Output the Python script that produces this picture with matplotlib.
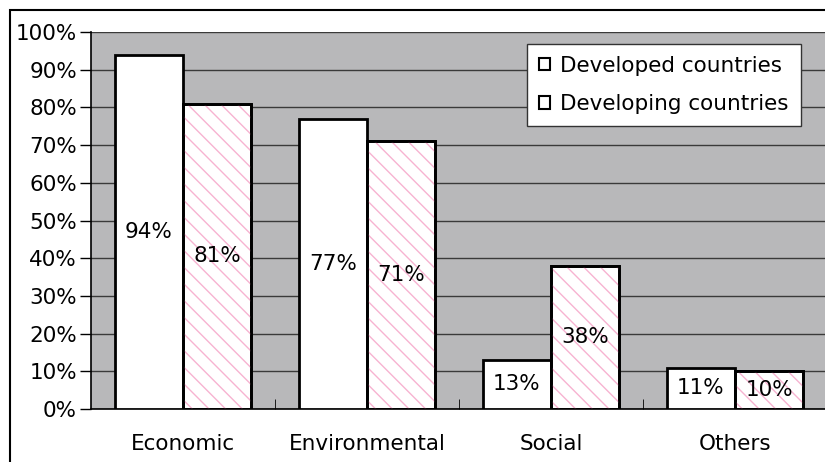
import numpy as np
import matplotlib
matplotlib.use('Agg')
import matplotlib.pyplot as plt
from matplotlib.patches import Rectangle, Patch

""" DONNEES """
categories = ['Economic', 'Environmental', 'Social', 'Others']
developed  = [94, 77, 13, 11]     # pays developpes (%)
developing = [81, 71, 38, 10]     # pays en developpement (%)
series     = ['Developed countries', 'Developing countries']
yticks     = np.arange(0, 101, 10)

plt.rcParams['font.family'] = ['DejaVu Sans']
plt.rcParams['hatch.linewidth'] = 1.0
fs = 15.5

""" FIGURE """
fig = plt.figure(figsize=(8.25, 4.62), dpi=100)
ax = fig.add_axes([91/825, 53/462, 736/825, 377/462])
ax.set_facecolor('#b8b8ba')

# cadre exterieur
fig.patches.append(Rectangle((10/825, -0.1), 900/825, (452/462) + 0.1,
                             transform=fig.transFigure, fill=False,
                             edgecolor='black', linewidth=1.5))

x = np.arange(len(categories))
w = 0.37

ax.bar(x - w/2, developed, w, color='white', edgecolor='black',
       linewidth=2, zorder=3)
ax.bar(x + w/2, developing, w, color='white', edgecolor='black',
       linewidth=2, zorder=3)
# hachures roses
ax.bar(x + w/2, developing, w, color='none', edgecolor='#f7b3d1',
       hatch='\\\\', linewidth=0, zorder=3)
ax.bar(x + w/2, developing, w, color='none', edgecolor='black',
       linewidth=2, zorder=3)

# etiquettes au milieu des barres
for xi, v in zip(x - w/2, developed):
    ax.text(xi, v/2, '%d%%' % v, ha='center', va='center', fontsize=fs, zorder=4)
for xi, v in zip(x + w/2, developing):
    ax.text(xi, v/2, '%d%%' % v, ha='center', va='center', fontsize=fs, zorder=4)

ax.set_xlim(-0.5, 3.5)
ax.set_ylim(0, 100)
ax.set_yticks(yticks)
ax.set_yticklabels(['%d%%' % t for t in yticks], fontsize=fs)
ax.yaxis.grid(True, color='#3a3a3a', linewidth=1)
ax.set_axisbelow(True)

ax.set_xticks(x)
ax.set_xticklabels(categories, fontsize=fs)
ax.tick_params(axis='x', length=0, pad=18)
ax.set_xticks(np.arange(0.5, 3, 1), minor=True)
ax.tick_params(axis='x', which='minor', direction='in', length=7, color='black')
ax.tick_params(axis='y', direction='out', length=8, width=1, pad=2)

for s in ['top', 'right']:
    ax.spines[s].set_visible(False)
ax.spines['left'].set_linewidth(1.2)
ax.spines['bottom'].set_linewidth(1.2)

handles = [Patch(facecolor='white', edgecolor='black', linewidth=1.5),
           Patch(facecolor='white', edgecolor='black', linewidth=1.5)]
leg = ax.legend(handles, series, loc='upper left',
                bbox_to_anchor=(436/736, 1 - 12/377), fontsize=fs,
                frameon=True, fancybox=False, framealpha=1,
                edgecolor='#333333', handlelength=0.5, handleheight=0.5,
                handletextpad=0.5, borderpad=0.55, labelspacing=0.85,
                borderaxespad=0)
leg.get_frame().set_linewidth(1)

fig.savefig('out.png', dpi=100)
